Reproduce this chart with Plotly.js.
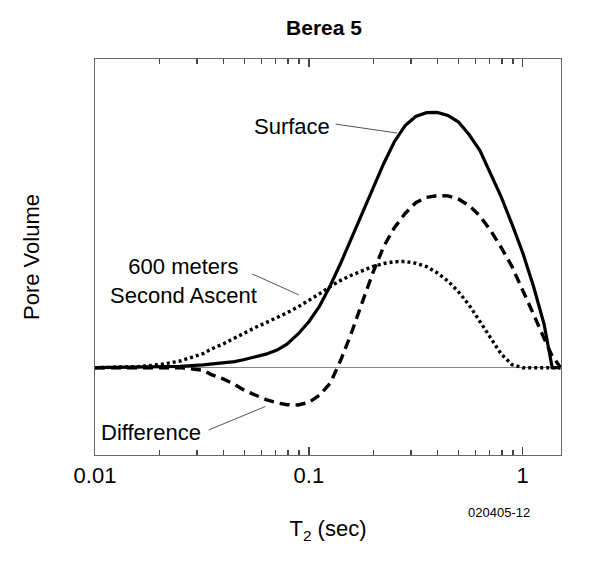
<!DOCTYPE html>
<html>
<head>
<meta charset="utf-8">
<script src="https://cdn.plot.ly/plotly-3.0.1.min.js"></script>
<style>
  html, body { margin: 0; padding: 0; background: #fff; }
  #chart { width: 600px; height: 561px; }
</style>
</head>
<body>
<div id="chart"></div>
<script>
// T2 (sec), shared by the three curves; pore volume in arbitrary units (surface peak = 1)
const T2 = [0.01, 0.016, 0.02, 0.025, 0.032, 0.035, 0.04, 0.045, 0.05, 0.056, 0.063, 0.071, 0.079, 0.089,
  0.1, 0.112, 0.126, 0.141, 0.158, 0.178, 0.2, 0.224, 0.251, 0.282, 0.316, 0.355, 0.398, 0.447, 0.501,
  0.562, 0.631, 0.708, 0.794, 0.891, 1.0, 1.122, 1.259, 1.374, 1.5];

const SURFACE = [0, 0.001, 0.002, 0.005, 0.011, 0.014, 0.018, 0.024, 0.032, 0.041, 0.053, 0.069, 0.092, 0.132,
  0.18, 0.24, 0.322, 0.41, 0.505, 0.605, 0.705, 0.8, 0.885, 0.948, 0.984, 0.999, 1.0, 0.988, 0.962,
  0.912, 0.85, 0.762, 0.668, 0.562, 0.45, 0.32, 0.17, 0, 0];

const ASCENT_600M = [0, 0.004, 0.012, 0.026, 0.055, 0.073, 0.094, 0.116, 0.137, 0.157, 0.176, 0.196, 0.215, 0.238,
  0.262, 0.289, 0.318, 0.342, 0.362, 0.381, 0.397, 0.408, 0.415, 0.416, 0.409, 0.396, 0.372, 0.339, 0.297,
  0.245, 0.18, 0.112, 0.053, 0.012, 0, 0, 0, 0, 0];

const DIFFERENCE = [0, 0, 0, 0, -0.01, -0.027, -0.045, -0.066, -0.089, -0.108, -0.125, -0.138, -0.145, -0.146,
  -0.136, -0.108, -0.06, 0.03, 0.135, 0.258, 0.375, 0.475, 0.548, 0.604, 0.646, 0.667, 0.674, 0.673, 0.66,
  0.635, 0.594, 0.537, 0.47, 0.396, 0.306, 0.21, 0.115, 0.045, 0.002];

const MAJOR_TICKS = [0.01, 0.1, 1];
const MAJOR_LABELS = ["0.01", "0.1", "1"];
const MINOR_TICKS = [0.02, 0.03, 0.04, 0.05, 0.06, 0.07, 0.08, 0.09, 0.2, 0.3, 0.4, 0.5, 0.6, 0.7, 0.8, 0.9];

const FONT = "Liberation Sans, Arial, Helvetica, sans-serif";
const X_RANGE = [-2, 0.179];

const traces = [
  {
    x: T2, y: ASCENT_600M, name: "600 meters Second Ascent", xaxis: "x2",
    type: "scatter", mode: "lines",
    line: { color: "#000", width: 3.4, dash: "3px,3px" },
  },
  {
    x: T2, y: DIFFERENCE, name: "Difference",
    type: "scatter", mode: "lines",
    line: { color: "#000", width: 3.4, dash: "10px,6px" },
  },
  {
    x: T2, y: SURFACE, name: "Surface",
    type: "scatter", mode: "lines",
    line: { color: "#000", width: 3.2 },
  },
];

const lbl = { family: FONT, size: 22, color: "#000" };
const leader = { color: "#555", width: 1 };

Plotly.newPlot("chart", traces, {
  width: 600,
  height: 561,
  showlegend: false,
  paper_bgcolor: "#fff",
  plot_bgcolor: "#fff",
  font: { family: FONT, color: "#000" },
  margin: { l: 95, r: 39, t: 59, b: 106 },
  title: {
    text: "<b>Berea 5</b>",
    font: { family: FONT, size: 21, color: "#000" },
    x: 0.54, xanchor: "center", y: 0.95, yanchor: "middle",
  },
  xaxis: {
    type: "log",
    range: X_RANGE,
    tickmode: "array",
    tickvals: MAJOR_TICKS,
    ticktext: MAJOR_LABELS,
    ticks: "inside",
    ticklen: 8,
    tickwidth: 1.5,
    tickcolor: "#444",
    tickfont: { family: FONT, size: 22, color: "#000" },
    showgrid: false,
    zeroline: false,
    showline: true,
    linecolor: "#666",
    linewidth: 1.2,
    mirror: "ticks",
    title: { text: "T<sub>2</sub> (sec)", font: { family: FONT, size: 22, color: "#000" }, standoff: 34 },
  },
  xaxis2: {
    type: "log",
    range: X_RANGE,
    overlaying: "x",
    anchor: "y",
    side: "bottom",
    tickmode: "array",
    tickvals: MINOR_TICKS,
    showticklabels: false,
    ticks: "inside",
    ticklen: 5,
    tickwidth: 1.3,
    tickcolor: "#444",
    showgrid: false,
    zeroline: false,
    showline: false,
    mirror: "ticks",
  },
  yaxis: {
    range: [-0.342, 1.209],
    showticklabels: false,
    ticks: "",
    showgrid: false,
    zeroline: true,
    zerolinecolor: "#888",
    zerolinewidth: 1,
    showline: true,
    linecolor: "#666",
    linewidth: 1.2,
    mirror: true,
    title: { text: "Pore Volume", font: { family: FONT, size: 22, color: "#000" }, standoff: 48 },
  },
  shapes: [
    { type: "line", xref: "x", yref: "y", x0: 0.1334, y0: 0.954, x1: 0.2585, y1: 0.919, line: leader },
    { type: "line", xref: "x", yref: "y", x0: 0.0544, y0: 0.367, x1: 0.0898, y1: 0.285, line: leader },
    { type: "line", xref: "x", yref: "y", x0: 0.034, y0: -0.244, x1: 0.0626, y1: -0.152, line: leader },
  ],
  annotations: [
    { text: "Surface", xref: "x", yref: "y", x: Math.log10(0.0837), y: 0.944, showarrow: false, font: lbl },
    { text: "600 meters<br>Second Ascent", xref: "x", yref: "y", x: Math.log10(0.0259), y: 0.338, showarrow: false, font: lbl },
    { text: "Difference", xref: "x", yref: "y", x: Math.log10(0.01834), y: -0.252, showarrow: false, font: lbl },
    { text: "020405-12", xref: "paper", yref: "paper", x: 0.868, y: -0.144, xanchor: "center", yanchor: "middle",
      showarrow: false, font: { family: FONT, size: 13, color: "#000" } },
  ],
}, { displayModeBar: false, staticPlot: true });
</script>
</body>
</html>
